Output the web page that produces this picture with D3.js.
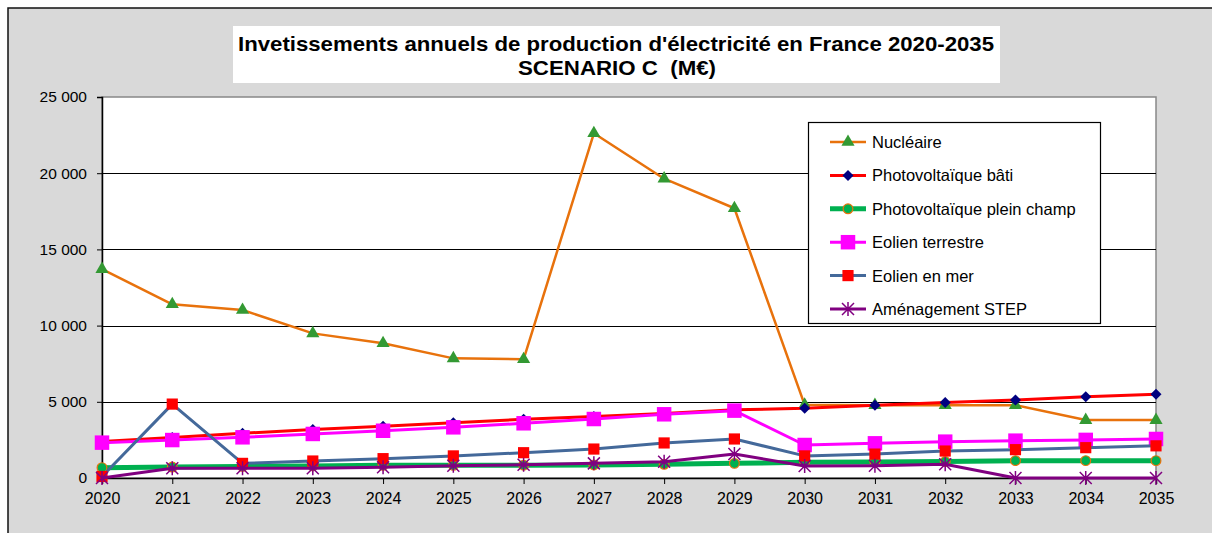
<!DOCTYPE html>
<html><head><meta charset="utf-8">
<script src="https://cdn.jsdelivr.net/npm/d3@7"></script>
<style>body{margin:0;background:#fff;} svg{display:block;font-family:"Liberation Sans",Arial,sans-serif;}</style>
</head><body>
<svg id="c" width="1212" height="533"></svg>
<script>
const years = [2020,2021,2022,2023,2024,2025,2026,2027,2028,2029,2030,2031,2032,2033,2034,2035];
const nucleaire   = [13700,11400,11020,9490,8840,7850,7790,22620,19640,17700,4800,4780,4780,4780,3800,3800];
const pvBati      = [2400,2650,2930,3190,3400,3620,3850,4030,4240,4480,4570,4780,4950,5120,5330,5490];
const pvChamp     = [680,720,760,790,830,830,840,860,900,960,1030,1050,1080,1140,1140,1140];
const eolTerre    = [2320,2490,2670,2890,3100,3325,3590,3870,4180,4420,2165,2275,2385,2450,2500,2560];
const eolMer      = [100,4850,960,1115,1270,1450,1660,1900,2300,2560,1450,1570,1770,1860,1990,2110];
const step        = [0,640,640,640,700,810,870,960,1070,1580,790,800,900,0,0,0];
const yTicks      = [0,5000,10000,15000,20000,25000];
const titleLines  = ["Invetissements annuels de production d'électricité en France 2020-2035","SCENARIO C  (M€)"];

const series = [
  {name:"Nucléaire", values:nucleaire, line:"#E8720C", lw:2.5, marker:"triangle", fill:"#339933", stroke:"none", size:75},
  {name:"Photovoltaïque bâti", values:pvBati, line:"#FF0000", lw:3, marker:"diamond", fill:"#000080", stroke:"none", size:5.5},
  {name:"Photovoltaïque plein champ", values:pvChamp, line:"#00B050", lw:5, marker:"circle", fill:"#00B050", stroke:"#E8720C", size:75},
  {name:"Eolien terrestre", values:eolTerre, line:"#FF00FF", lw:3, marker:"square", fill:"#FF00FF", stroke:"none", size:210},
  {name:"Eolien en mer", values:eolMer, line:"#44699A", lw:3, marker:"square", fill:"#FF0000", stroke:"none", size:125},
  {name:"Aménagement STEP", values:step, line:"#800080", lw:3, marker:"star", fill:"none", stroke:"#800080", size:6}
];

const svg = d3.select("#c");
svg.append("rect").attr("x",0).attr("y",0).attr("width",1212).attr("height",533).attr("fill","#fff");
svg.append("rect").attr("x",8).attr("y",8).attr("width",1230).attr("height",560).attr("fill","#D9D9D9").attr("stroke","#111").attr("stroke-width",1.5);

const x = d3.scalePoint().domain(years).range([102,1156]);
const y = d3.scaleLinear().domain([0,25000]).range([478,97]);

svg.append("rect").attr("x",102).attr("y",97).attr("width",1054).attr("height",381).attr("fill","#fff").attr("stroke","#888").attr("stroke-width",1.5);

svg.append("g").selectAll("line").data(yTicks.filter(d=>d>0&&d<25000)).join("line")
  .attr("x1",102).attr("x2",1156).attr("y1",d=>Math.round(y(d))+0.5).attr("y2",d=>Math.round(y(d))+0.5)
  .attr("stroke","#000").attr("stroke-width",1.2);

const fmt = d => d3.format(",")(d).replace(/,/g," ");
const yAxis = svg.append("g").attr("transform","translate(102,0)")
  .call(d3.axisLeft(y).tickValues(yTicks).tickFormat(fmt).tickSize(5).tickPadding(10));
yAxis.select(".domain").attr("stroke","#000").attr("stroke-width",1.5);
yAxis.selectAll(".tick line").attr("stroke","#000");
yAxis.selectAll("text").attr("font-size",15.5).attr("fill","#000").attr("font-family","Liberation Sans, Arial, sans-serif");

const xAxis = svg.append("g").attr("transform","translate(0,478)")
  .call(d3.axisBottom(x).tickSize(6).tickPadding(9));
xAxis.select(".domain").attr("stroke","#000").attr("stroke-width",1.5);
xAxis.selectAll(".tick line").attr("stroke","#000");
xAxis.selectAll("text").attr("font-size",16).attr("fill","#000").attr("font-family","Liberation Sans, Arial, sans-serif");

function markerPath(s){
  const r=s.size;
  if(s.marker==="star"){
    return `M${-r},${-r}L${r},${r}M${-r},${r}L${r},${-r}M0,${-r-1}L0,${r+1}`;
  }
  if(s.marker==="diamond"){
    return `M0,${-r}L${r},0L0,${r}L${-r},0Z`;
  }
  const t = {triangle:d3.symbolTriangle, circle:d3.symbolCircle, square:d3.symbolSquare}[s.marker];
  return d3.symbol().type(t).size(s.size)();
}

const lineGen = d3.line().x((d,i)=>x(years[i])).y(d=>y(d));
series.forEach(s=>{
  const g = svg.append("g");
  g.append("path").attr("d",lineGen(s.values)).attr("fill","none").attr("stroke",s.line).attr("stroke-width",s.lw).attr("stroke-linejoin","round");
  g.selectAll("path.m").data(s.values).join("path").attr("class","m")
    .attr("transform",(d,i)=>`translate(${x(years[i])},${y(d)})`)
    .attr("d",markerPath(s)).attr("fill",s.fill).attr("stroke",s.stroke)
    .attr("stroke-width",s.marker==="star"?1.5:1.2);
});

const lg = svg.append("g");
lg.append("rect").attr("x",808.5).attr("y",122.5).attr("width",292).attr("height",201).attr("fill","#fff").attr("stroke","#000").attr("stroke-width",1.2);
series.forEach((s,i)=>{
  const yy = 142 + i*33.4;
  lg.append("line").attr("x1",830).attr("x2",866).attr("y1",yy).attr("y2",yy).attr("stroke",s.line).attr("stroke-width",s.lw);
  lg.append("path").attr("transform",`translate(848,${yy})`).attr("d",markerPath(s)).attr("fill",s.fill).attr("stroke",s.stroke).attr("stroke-width",s.marker==="star"?1.5:1.2);
  lg.append("text").attr("x",872).attr("y",yy+6).attr("font-size",16.5).attr("fill","#000").text(s.name);
});

svg.append("rect").attr("x",233).attr("y",26).attr("width",767).attr("height",57).attr("fill","#fff");
svg.append("text").attr("x",616).attr("y",51).attr("text-anchor","middle").attr("font-size",21).attr("font-weight","bold").attr("fill","#000")
  .attr("textLength",756).attr("lengthAdjust","spacingAndGlyphs").text(titleLines[0]);
svg.append("text").attr("x",617).attr("y",75).attr("text-anchor","middle").attr("font-size",21).attr("font-weight","bold").attr("fill","#000")
  .style("white-space","pre").attr("textLength",198).attr("lengthAdjust","spacingAndGlyphs").text(titleLines[1]);
</script>
</body></html>
